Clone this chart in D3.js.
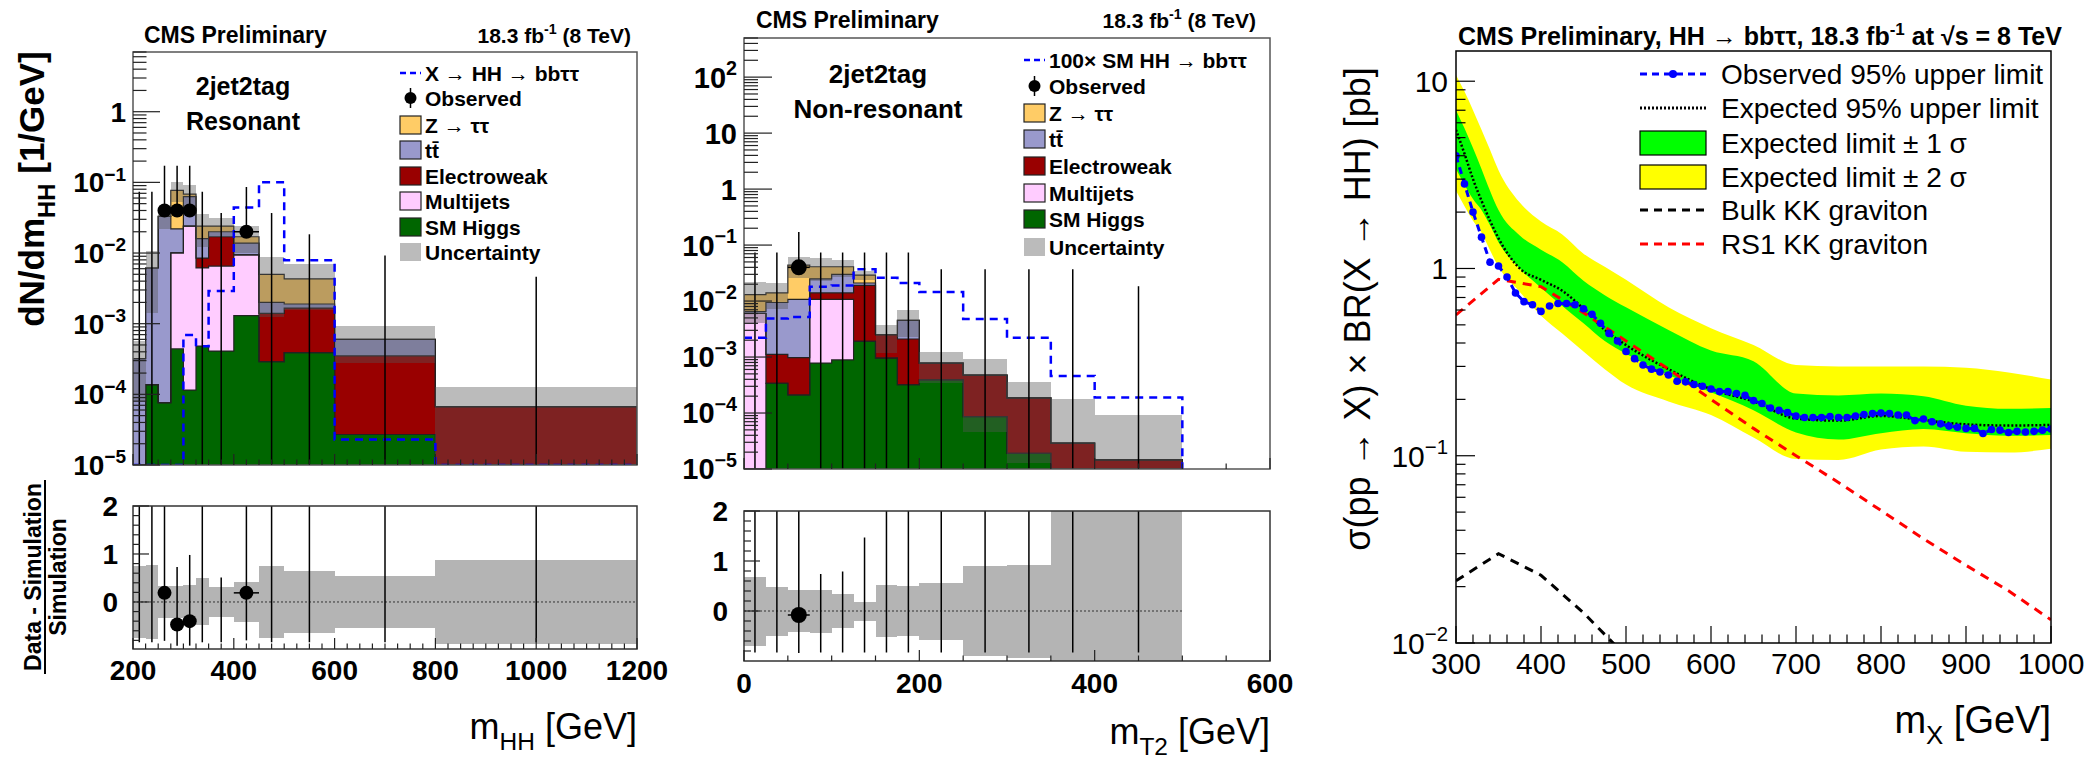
<!DOCTYPE html>
<html>
<head>
<meta charset="utf-8">
<script src="https://cdn.jsdelivr.net/npm/d3@7"></script>
<style>
  body { margin: 0; background: #fff; }
  svg text { font-family: "Liberation Sans", Arial, Helvetica, sans-serif; fill: #000; }
</style>
</head>
<body>
<svg id="chart" width="2089" height="763"></svg>
<script>
// ---- left panel: resonant, m_HH (values per GeV) ----
const resEdges    = [200, 225, 250, 275, 300, 325, 350, 400, 450, 500, 600, 800, 1200];
const resHiggs    = [0, 1.37e-4, 7.6e-5, 4.4e-4, 1.15e-4, 4.8e-4, 4.1e-4, 1.3e-3, 2.9e-4, 3.9e-4, 2.7e-5, 0];
const resMultijet = [0, 0, 0, 9.6e-3, 2.39e-2, 5.7e-3, 6.1e-3, 8.1e-3, 0, 0, 0, 0];
const resEwk      = [0, 0, 0, 0, 0, 2.3e-3, 1.05e-2, 0, 1.11e-3, 1.27e-3, 3.23e-4, 6.7e-5];
const resTtbar    = [3.2e-4, 6.0e-3, 3.29e-2, 1.2e-2, 3.9e-2, 7.5e-3, 3.0e-3, 4.4e-3, 6.0e-4, 2.4e-4, 2.5e-4, 0];
const resZtt      = [0, 0, 0, 5.5e-2, 5.0e-3, 8.0e-3, 4.0e-3, 3.2e-3, 3.0e-3, 2.4e-3, 0, 0];
const resUncLo    = [8e-5, 1.4e-3, 2.2e-2, 5.2e-2, 4.4e-2, 1.2e-2, 1.7e-2, 9.9e-3, 1.25e-3, 1.55e-3, 2.8e-4, 8e-6];
const resUncHi    = [5.6e-4, 1.08e-2, 4.4e-2, 1.0e-1, 9.2e-2, 3.6e-2, 3.1e-2, 2.4e-2, 8.8e-3, 7.0e-3, 9.2e-4, 1.26e-4];
const resSignal   = [1e-7, 1e-7, 1e-7, 1e-7, 6.9e-4, 4.8e-4, 2.9e-3, 4.4e-2, 1.0e-1, 7.9e-3, 2.3e-5, 1e-7];
const resObs      = [0, 0, 1, 1, 1, 0, 0, 1, 0, 0, 0, 0];
const resRatioUnc = [0.75, 0.77, 0.33, 0.33, 0.35, 0.49, 0.31, 0.42, 0.75, 0.64, 0.54, 0.88];
const resRatioVal = [null, null, 0.19, -0.47, -0.40, null, null, 0.19, null, null, null, null];
const resRatioLo  = [-0.84, -0.84, -0.81, -0.91, -0.91, -0.84, -0.84, -0.80, -0.84, -0.84, -0.84, -0.84];
const resRatioHi  = [2.5, 2.5, 2.5, 0.73, 0.98, 2.5, 0.51, 2.5, 2.5, 2.5, 2.5, 2.5];

// ---- middle panel: non-resonant, m_T2 ----
const nrEdges    = [0, 25, 50, 75, 100, 125, 150, 175, 200, 250, 300, 350, 400, 500];
const nrHiggs    = [0, 3.4e-4, 2.1e-4, 7.8e-4, 8.9e-4, 1.9e-3, 9.6e-4, 3.2e-4, 3.9e-4, 8.6e-5, 1.9e-5, 0, 0];
const nrMultijet = [6.0e-3, 0, 0, 9.9e-3, 9.8e-3, 0, 0, 0, 0, 0, 0, 0, 0];
const nrEwk      = [0, 7.8e-4, 7.7e-4, 3.3e-3, 3.3e-3, 1.71e-2, 1.54e-3, 1.78e-3, 3.9e-4, 3.9e-4, 1.68e-4, 2.9e-5, 1.45e-5];
const nrTtbar    = [5e-4, 8.3e-3, 9.7e-3, 1.1e-2, 1.6e-2, 2.0e-3, 0, 2.4e-3, 0, 0, 0, 0, 0];
const nrZtt      = [6.5e-3, 4.6e-3, 3.3e-2, 1.6e-2, 1.1e-2, 8.0e-3, 0, 0, 0, 0, 0, 0, 0];
const nrUncLo    = [4.0e-3, 7.1e-3, 2.55e-2, 2.3e-2, 2.7e-2, 2.35e-2, 1.2e-3, 2.25e-3, 3.4e-4, 4.5e-5, 1.3e-5, 1e-7, 1e-7];
const nrUncHi    = [2.2e-2, 2.1e-2, 6.25e-2, 5.9e-2, 5.5e-2, 3.5e-2, 3.8e-3, 6.8e-3, 1.22e-3, 9.1e-4, 3.6e-4, 1.8e-4, 9.1e-5];
const nrSignal   = [2.2e-3, 4.9e-3, 5.2e-3, 1.8e-2, 1.9e-2, 3.7e-2, 2.6e-2, 2.1e-2, 1.45e-2, 4.8e-3, 2.2e-3, 4.6e-4, 1.9e-4];
const nrObs      = [0, 0, 1, 0, 0, 0, 0, 0, 0, 0, 0, 0, 0];
const nrRatioUnc = [0.69, 0.49, 0.42, 0.43, 0.34, 0.19, 0.52, 0.50, 0.57, 0.90, 0.93, 5.2, 5.3];
const nrRatioVal = [null, null, -0.08, null, null, null, null, null, null, null, null, null, null];
const nrRatioLo  = [-0.83, -0.83, -0.84, -0.83, -0.83, -0.83, -0.83, -0.83, -0.83, -0.83, -0.83, -0.83, -0.83];
const nrRatioHi  = [2.5, 2.5, 2.5, 0.74, 0.79, 1.47, 2.5, 2.5, 2.5, 2.5, 2.5, 2.5, 2.5];

// Poisson (Garwood) interval on counts: [low, high]
const poissonInt = { 0: [0, 1.841], 1: [0.173, 3.300] };

// ---- right panel: limits vs m_X ----
const obsMass = [300,310,320,330,340,350,360,370,380,390,400,410,420,430,440,450,460,470,480,490,
  500,510,520,530,540,550,560,570,580,590,600,610,620,630,640,650,660,670,680,690,
  700,710,720,730,740,750,760,770,780,790,800,810,820,830,840,850,860,870,880,890,
  900,910,920,930,940,950,960,970,980,990,1000];
const obsLimit = [4.0,2.83,2.0,1.47,1.08,1.03,0.90,0.74,0.665,0.64,0.59,0.63,0.65,0.65,0.64,0.61,0.57,0.51,0.45,0.41,
  0.36,0.33,0.305,0.29,0.28,0.27,0.25,0.248,0.24,0.235,0.227,0.22,0.22,0.215,0.21,0.197,0.19,0.18,0.175,0.17,
  0.163,0.16,0.16,0.16,0.162,0.16,0.16,0.163,0.166,0.168,0.169,0.168,0.165,0.165,0.154,0.157,0.152,0.148,0.144,0.142,
  0.140,0.140,0.1315,0.138,0.137,0.133,0.135,0.134,0.135,0.137,0.139];
const expMass  = [300,310,320,330,340,350,375,400,425,450,475,500,550,600,650,700,750,800,850,900,950,1000];
const expLimit = [5.5,4.1,3.0,2.3,1.8,1.45,1.0,0.87,0.76,0.61,0.47,0.39,0.29,0.227,0.195,0.158,0.154,0.163,0.155,0.147,0.145,0.146];
const exp1Hi   = [7.0,5.6,4.4,3.4,2.6,2.05,1.5,1.26,1.08,0.86,0.72,0.62,0.47,0.365,0.32,0.215,0.21,0.215,0.208,0.185,0.178,0.18];
const exp1Lo   = [3.4,2.8,2.35,2.05,1.7,1.38,1.0,0.79,0.63,0.51,0.41,0.35,0.27,0.218,0.175,0.133,0.122,0.132,0.139,0.132,0.128,0.129];
const exp2Hi   = [10.8,8.8,7.0,5.5,4.3,3.35,2.25,1.78,1.52,1.2,1.02,0.87,0.62,0.48,0.39,0.305,0.30,0.30,0.30,0.295,0.278,0.255];
const exp2Lo   = [2.6,2.15,1.8,1.55,1.25,1.02,0.75,0.56,0.45,0.36,0.29,0.24,0.195,0.165,0.125,0.096,0.095,0.108,0.112,0.105,0.104,0.109];
const rsMass   = [300,350,400,450,500,550,600,650,700,750,800,850,900,950,1000];
const rsXsec   = [0.565,0.875,0.80,0.58,0.41,0.29,0.20,0.14,0.10,0.072,0.051,0.036,0.026,0.019,0.0133];
const bulkMass = [300,350,400,450,500];
const bulkXsec = [0.0215,0.030,0.023,0.0145,0.0085];

const procKeys = ["higgs", "multijet", "ewk", "ttbar", "ztt"];
const procColors = { ztt: "#ffcc66", ttbar: "#9999cc", ewk: "#990000", multijet: "#ffccff", higgs: "#006600" };

const svg = d3.select("#chart");
const defs = svg.append("defs");

// text with sub/superscripts; parts: [{t, sub, sup}]
function rich(sel, parts, fs) {
  let shift = 0;
  parts.forEach(p => {
    const target = p.sub ? fs * 0.3 : (p.sup ? -fs * 0.42 : 0);
    const ts = sel.append("tspan").attr("dy", target - shift).text(p.t);
    if (p.sub || p.sup) ts.attr("font-size", fs * 0.68);
    shift = target;
  });
  return sel;
}

function decadeLabel(sel, v, fs) {
  const e = Math.round(Math.log10(v));
  if (e === 0) return sel.text("1");
  if (e === 1) return sel.text("10");
  return rich(sel, [{ t: "10" }, { t: e < 0 ? "\u2212" + (-e) : String(e), sup: true }], fs);
}

function clipRect(id, x0, y0, x1, y1) {
  defs.append("clipPath").attr("id", id).append("rect")
    .attr("x", x0).attr("y", y0).attr("width", x1 - x0).attr("height", y1 - y0);
  return `url(#${id})`;
}

function drawHistPanel(p) {
  const nb = p.edges.length - 1;
  const x = d3.scaleLinear().domain(p.xDomain).range([p.left, p.right]);
  const y = d3.scaleLog().domain(p.yDomain).range([p.bottom, p.top]);
  const yc = v => y(Math.max(v, p.yDomain[0]));
  const bins = d3.range(nb);
  const g = svg.append("g");
  const plot = g.append("g").attr("clip-path", clipRect("clip-" + p.id, p.left, p.top, p.right, p.bottom));

  // stacked backgrounds
  const rows = bins.map(i => ({ x0: p.edges[i], x1: p.edges[i + 1], higgs: p.higgs[i], multijet: p.multijet[i], ewk: p.ewk[i], ttbar: p.ttbar[i], ztt: p.ztt[i] }));
  const layers = d3.stack().keys(procKeys)(rows);
  layers.forEach(layer => {
    plot.append("g").attr("shape-rendering", "crispEdges")
      .selectAll("rect").data(layer).join("rect")
      .attr("x", d => x(d.data.x0)).attr("width", d => x(d.data.x1) - x(d.data.x0))
      .attr("y", d => yc(d[1])).attr("height", d => Math.max(0, yc(d[0]) - yc(d[1])))
      .attr("fill", procColors[layer.key]);
  });
  layers.forEach(layer => {
    const pts = [[x(p.edges[0]), p.bottom]];
    layer.forEach(d => { pts.push([x(d.data.x0), yc(d[1])], [x(d.data.x1), yc(d[1])]); });
    pts.push([x(p.edges[nb]), p.bottom]);
    plot.append("path").attr("d", d3.line()(pts)).attr("fill", "none")
      .attr("stroke", "#222").attr("stroke-width", 1.2);
  });

  // uncertainty band
  plot.append("g").attr("shape-rendering", "crispEdges")
    .selectAll("rect").data(bins).join("rect")
    .attr("x", i => x(p.edges[i])).attr("width", i => x(p.edges[i + 1]) - x(p.edges[i]))
    .attr("y", i => yc(p.uncHi[i])).attr("height", i => yc(p.uncLo[i]) - yc(p.uncHi[i]))
    .attr("fill", "#555").attr("fill-opacity", 0.4);

  // signal
  const sig = [];
  bins.forEach(i => { sig.push([x(p.edges[i]), yc(p.signal[i])], [x(p.edges[i + 1]), yc(p.signal[i])]); });
  sig.push([x(p.edges[nb]), p.bottom]);
  plot.append("path").attr("d", d3.line()(sig)).attr("fill", "none")
    .attr("stroke", "#0000ff").attr("stroke-width", 2.5).attr("stroke-dasharray", "8,6");

  // observed
  bins.forEach(i => {
    const w = p.edges[i + 1] - p.edges[i];
    const n = p.obs[i];
    const [lo, hi] = poissonInt[n];
    const xc = x((p.edges[i] + p.edges[i + 1]) / 2);
    plot.append("line").attr("x1", xc).attr("x2", xc)
      .attr("y1", n > 0 ? yc((n - lo) / w) : p.bottom).attr("y2", yc((n + hi) / w))
      .attr("stroke", "#000").attr("stroke-width", 1.5);
    if (n > 0) {
      plot.append("line").attr("x1", x(p.edges[i])).attr("x2", x(p.edges[i + 1]))
        .attr("y1", yc(n / w)).attr("y2", yc(n / w)).attr("stroke", "#000").attr("stroke-width", 1.5);
      plot.append("circle").attr("cx", xc).attr("cy", yc(n / w)).attr("r", p.markerR).attr("fill", "#000");
    }
  });

  // frame and ticks
  g.append("rect").attr("x", p.left).attr("y", p.top).attr("width", p.right - p.left).attr("height", p.bottom - p.top)
    .attr("fill", "none").attr("stroke", "#555").attr("stroke-width", 1.5);
  y.ticks().forEach(t => {
    const major = Math.abs(Math.log10(t) - Math.round(Math.log10(t))) < 1e-6;
    g.append("line").attr("x1", p.left).attr("x2", p.left + (major ? p.yMaj : p.yMaj / 2))
      .attr("y1", y(t)).attr("y2", y(t)).attr("stroke", "#222").attr("stroke-width", 1.2);
    if (major) {
      decadeLabel(g.append("text").attr("x", p.yLabelX).attr("y", y(t) + p.yFont * 0.36)
        .attr("text-anchor", "end").attr("font-weight", "bold").attr("font-size", p.yFont), t, p.yFont);
    }
  });
  d3.range(p.xDomain[0], p.xDomain[1] + 1e-9, p.xMinor).forEach(t => {
    const major = (t - p.xDomain[0]) % p.xMajor === 0;
    g.append("line").attr("x1", x(t)).attr("x2", x(t)).attr("y1", p.bottom).attr("y2", p.bottom - (major ? 11 : 5.5))
      .attr("stroke", "#222").attr("stroke-width", 1.2);
  });

  // header texts
  g.append("text").attr("x", p.cmsX).attr("y", p.headY).attr("font-weight", "bold").attr("font-size", 23).text("CMS Preliminary");
  rich(g.append("text").attr("x", p.lumiX).attr("y", p.headY).attr("text-anchor", "end")
    .attr("font-weight", "bold").attr("font-size", 21),
    [{ t: "18.3 fb" }, { t: "-1", sup: true }, { t: " (8 TeV)" }], 21);
  p.catText.forEach((s, k) => {
    g.append("text").attr("x", p.catX).attr("y", p.catY[k]).attr("text-anchor", "middle")
      .attr("font-weight", "bold").attr("font-size", p.catFont).text(s);
  });

  // legend
  const lg = g.append("g").attr("font-weight", "bold").attr("font-size", 21);
  const bx = p.legX, bw = 21, tx = p.legX + 25;
  const rowsY = p.legRows;
  lg.append("line").attr("x1", bx).attr("x2", bx + bw).attr("y1", rowsY[0]).attr("y2", rowsY[0])
    .attr("stroke", "#0000ff").attr("stroke-width", 2.5).attr("stroke-dasharray", "6,4");
  lg.append("text").attr("x", tx).attr("y", rowsY[0] + 8).text(p.sigLabel);
  lg.append("line").attr("x1", bx + bw / 2).attr("x2", bx + bw / 2).attr("y1", rowsY[1] - 10).attr("y2", rowsY[1] + 10)
    .attr("stroke", "#000").attr("stroke-width", 1.5);
  lg.append("circle").attr("cx", bx + bw / 2).attr("cy", rowsY[1]).attr("r", 6).attr("fill", "#000");
  lg.append("text").attr("x", tx).attr("y", rowsY[1] + 8).text("Observed");
  const boxes = [["ztt", "Z \u2192 \u03c4\u03c4"], ["ttbar", "tt\u0304"], ["ewk", "Electroweak"], ["multijet", "Multijets"], ["higgs", "SM Higgs"]];
  boxes.forEach(([k, label], j) => {
    const yy = rowsY[j + 2];
    lg.append("rect").attr("x", bx).attr("y", yy - 9).attr("width", bw).attr("height", 18)
      .attr("fill", procColors[k]).attr("stroke", "#222").attr("stroke-width", 1.2);
    lg.append("text").attr("x", tx).attr("y", yy + 8).text(label);
  });
  lg.append("rect").attr("x", bx).attr("y", rowsY[7] - 9).attr("width", bw).attr("height", 18).attr("fill", "#bbbbbb");
  lg.append("text").attr("x", tx).attr("y", rowsY[7] + 8).text("Uncertainty");

  // ---- ratio pad ----
  const yr = d3.scaleLinear().domain(p.rDomain).range([p.rBottom, p.rTop]);
  const rg = svg.append("g");
  const rplot = rg.append("g").attr("clip-path", clipRect("clipr-" + p.id, p.left, p.rTop, p.right, p.rBottom));
  rplot.append("g").attr("shape-rendering", "crispEdges")
    .selectAll("rect").data(bins).join("rect")
    .attr("x", i => x(p.edges[i])).attr("width", i => x(p.edges[i + 1]) - x(p.edges[i]))
    .attr("y", i => yr(p.ratioUnc[i])).attr("height", i => yr(-p.ratioUnc[i]) - yr(p.ratioUnc[i]))
    .attr("fill", "#b4b4b4");
  rplot.append("line").attr("x1", p.left).attr("x2", x(p.edges[nb])).attr("y1", yr(0)).attr("y2", yr(0))
    .attr("stroke", "#333").attr("stroke-width", 1).attr("stroke-dasharray", "2,2");
  bins.forEach(i => {
    const xc = x((p.edges[i] + p.edges[i + 1]) / 2);
    rplot.append("line").attr("x1", xc).attr("x2", xc).attr("y1", yr(p.ratioLo[i])).attr("y2", yr(p.ratioHi[i]))
      .attr("stroke", "#000").attr("stroke-width", 1.5);
    if (p.ratioVal[i] !== null) {
      rplot.append("line").attr("x1", x(p.edges[i])).attr("x2", x(p.edges[i + 1]))
        .attr("y1", yr(p.ratioVal[i])).attr("y2", yr(p.ratioVal[i])).attr("stroke", "#000").attr("stroke-width", 1.5);
      rplot.append("circle").attr("cx", xc).attr("cy", yr(p.ratioVal[i])).attr("r", p.markerR).attr("fill", "#000");
    }
  });
  rg.append("rect").attr("x", p.left).attr("y", p.rTop).attr("width", p.right - p.left).attr("height", p.rBottom - p.rTop)
    .attr("fill", "none").attr("stroke", "#333").attr("stroke-width", 1.5);
  d3.range(-0.8, 2.0001, 0.2).forEach(t => {
    const major = Math.abs(t - Math.round(t)) < 1e-6;
    rg.append("line").attr("x1", p.left).attr("x2", p.left + (major ? 16 : 7)).attr("y1", yr(t)).attr("y2", yr(t))
      .attr("stroke", "#222").attr("stroke-width", 1.2);
    if (major) rg.append("text").attr("x", p.rLabelX).attr("y", yr(t) + 10).attr("text-anchor", "end")
      .attr("font-weight", "bold").attr("font-size", 28).text(Math.round(t));
  });
  d3.range(p.xDomain[0], p.xDomain[1] + 1e-9, p.xMinor).forEach(t => {
    const major = (t - p.xDomain[0]) % p.xMajor === 0;
    rg.append("line").attr("x1", x(t)).attr("x2", x(t)).attr("y1", p.rBottom).attr("y2", p.rBottom - (major ? 11 : 5.5))
      .attr("stroke", "#222").attr("stroke-width", 1.2);
    if (major) rg.append("text").attr("x", x(t)).attr("y", p.xLabelY).attr("text-anchor", "middle")
      .attr("font-weight", "bold").attr("font-size", 28).text(t);
  });
  rich(rg.append("text").attr("x", p.right).attr("y", p.xTitleY).attr("text-anchor", "end").attr("font-size", 36),
    p.xTitle, 36);
}

drawHistPanel({
  id: "res", edges: resEdges, higgs: resHiggs, multijet: resMultijet, ewk: resEwk, ttbar: resTtbar, ztt: resZtt,
  uncLo: resUncLo, uncHi: resUncHi, signal: resSignal, obs: resObs,
  ratioUnc: resRatioUnc, ratioVal: resRatioVal, ratioLo: resRatioLo, ratioHi: resRatioHi,
  left: 133, right: 637, top: 52, bottom: 465, xDomain: [200, 1200], yDomain: [1e-5, 7],
  rTop: 506, rBottom: 649, rDomain: [-0.98, 2],
  yMaj: 27, yFont: 28, yLabelX: 126, rLabelX: 118, xLabelY: 680, xMinor: 25, xMajor: 200,
  markerR: 7, headY: 43, cmsX: 144, lumiX: 631,
  catText: ["2jet2tag", "Resonant"], catX: 243, catY: [95, 130], catFont: 25,
  legX: 400, legRows: [73, 98, 125, 150, 176, 201, 227, 252], sigLabel: "X \u2192 HH \u2192 bb\u03c4\u03c4",
  xTitle: [{ t: "m" }, { t: "HH", sub: true }, { t: " [GeV]" }], xTitleY: 739
});

drawHistPanel({
  id: "nr", edges: nrEdges, higgs: nrHiggs, multijet: nrMultijet, ewk: nrEwk, ttbar: nrTtbar, ztt: nrZtt,
  uncLo: nrUncLo, uncHi: nrUncHi, signal: nrSignal, obs: nrObs,
  ratioUnc: nrRatioUnc, ratioVal: nrRatioVal, ratioLo: nrRatioLo, ratioHi: nrRatioHi,
  left: 744, right: 1270, top: 38, bottom: 469, xDomain: [0, 600], yDomain: [1e-5, 500],
  rTop: 511, rBottom: 661, rDomain: [-1, 2],
  yMaj: 28, yFont: 29, yLabelX: 737, rLabelX: 728, xLabelY: 693, xMinor: 50, xMajor: 200,
  markerR: 8, headY: 28, cmsX: 756, lumiX: 1256,
  catText: ["2jet2tag", "Non-resonant"], catX: 878, catY: [83, 118], catFont: 26,
  legX: 1024, legRows: [60, 86, 113, 139, 166, 193, 219, 247], sigLabel: "100\u00d7 SM HH \u2192 bb\u03c4\u03c4",
  xTitle: [{ t: "m" }, { t: "T2", sub: true }, { t: " [GeV]" }], xTitleY: 744
});

// left y titles
rich(svg.append("text").attr("transform", "translate(44,189) rotate(-90)").attr("text-anchor", "middle")
  .attr("font-weight", "bold").attr("font-size", 35),
  [{ t: "dN/dm" }, { t: "HH", sub: true }, { t: " [1/GeV]" }], 35);
svg.append("text").attr("transform", "translate(41,577) rotate(-90)").attr("text-anchor", "middle")
  .attr("font-weight", "bold").attr("font-size", 23).text("Data - Simulation");
svg.append("line").attr("x1", 45).attr("x2", 45).attr("y1", 480).attr("y2", 674).attr("stroke", "#000").attr("stroke-width", 2);
svg.append("text").attr("transform", "translate(66,577) rotate(-90)").attr("text-anchor", "middle")
  .attr("font-weight", "bold").attr("font-size", 23).text("Simulation");

// ---- right panel ----
(function drawLimits() {
  const L = 1456, R = 2051, T = 51, B = 643;
  const x = d3.scaleLinear().domain([300, 1000]).range([L, R]);
  const y = d3.scaleLog().domain([0.01, 14.5]).range([B, T]);
  const g = svg.append("g");
  const plot = g.append("g").attr("clip-path", clipRect("clip-lim", L, T, R, B));

  const band = (lo, hi) => d3.area().x((d, i) => x(expMass[i])).y0((d, i) => y(lo[i])).y1((d, i) => y(hi[i]))
    .curve(d3.curveMonotoneX)(expMass);
  plot.append("path").attr("d", band(exp2Lo, exp2Hi)).attr("fill", "#ffff00");
  plot.append("path").attr("d", band(exp1Lo, exp1Hi)).attr("fill", "#00ff00");
  plot.append("path").attr("d", d3.line().x((d, i) => x(expMass[i])).y((d, i) => y(expLimit[i])).curve(d3.curveMonotoneX)(expMass))
    .attr("fill", "none").attr("stroke", "#000").attr("stroke-width", 2.5).attr("stroke-dasharray", "2,2");
  plot.append("path").attr("d", d3.line().x((d, i) => x(rsMass[i])).y((d, i) => y(rsXsec[i]))(rsMass))
    .attr("fill", "none").attr("stroke", "#ff0000").attr("stroke-width", 3).attr("stroke-dasharray", "9,7");
  plot.append("path").attr("d", d3.line().x((d, i) => x(bulkMass[i])).y((d, i) => y(bulkXsec[i]))(bulkMass))
    .attr("fill", "none").attr("stroke", "#000").attr("stroke-width", 3).attr("stroke-dasharray", "9,7");
  plot.append("path").attr("d", d3.line().x((d, i) => x(obsMass[i])).y((d, i) => y(obsLimit[i]))(obsMass))
    .attr("fill", "none").attr("stroke", "#0000ff").attr("stroke-width", 3).attr("stroke-dasharray", "7,5");
  plot.append("g").selectAll("circle").data(obsMass).join("circle")
    .attr("cx", (d, i) => x(d)).attr("cy", (d, i) => y(obsLimit[i])).attr("r", 3.8).attr("fill", "#0000ff");

  g.append("rect").attr("x", L).attr("y", T).attr("width", R - L).attr("height", B - T)
    .attr("fill", "none").attr("stroke", "#000").attr("stroke-width", 1.5);
  y.ticks().forEach(t => {
    const major = Math.abs(Math.log10(t) - Math.round(Math.log10(t))) < 1e-6;
    g.append("line").attr("x1", L).attr("x2", L + (major ? 19 : 9.5)).attr("y1", y(t)).attr("y2", y(t))
      .attr("stroke", "#000").attr("stroke-width", 1.2);
    if (major) decadeLabel(g.append("text").attr("x", 1448).attr("y", y(t) + 11).attr("text-anchor", "end")
      .attr("font-size", 30), t, 30);
  });
  d3.range(300, 1000.001, 20).forEach(t => {
    const major = t % 100 === 0;
    g.append("line").attr("x1", x(t)).attr("x2", x(t)).attr("y1", B).attr("y2", B - (major ? 17 : 8.5))
      .attr("stroke", "#000").attr("stroke-width", 1.2);
    if (major) g.append("text").attr("x", x(t)).attr("y", 674).attr("text-anchor", "middle").attr("font-size", 30).text(t);
  });

  rich(g.append("text").attr("x", 1458).attr("y", 45).attr("font-weight", "bold").attr("font-size", 25),
    [{ t: "CMS Preliminary, HH \u2192 bb\u03c4\u03c4, 18.3 fb" }, { t: "-1", sup: true }, { t: " at \u221as = 8 TeV" }], 25);
  rich(g.append("text").attr("x", R).attr("y", 733).attr("text-anchor", "end").attr("font-size", 38),
    [{ t: "m" }, { t: "X", sub: true }, { t: " [GeV]" }], 38);
  g.append("text").attr("transform", "translate(1370,309) rotate(-90)").attr("text-anchor", "middle")
    .attr("font-size", 36).text("\u03c3(pp \u2192 X) \u00d7 BR(X \u2192 HH) [pb]");

  // legend
  const lx0 = 1640, lx1 = 1706, tx = 1721, rowsY = [74, 108, 143, 177, 210, 244];
  const lg = g.append("g").attr("font-size", 28);
  const seg = (yy, color, dash) => lg.append("line").attr("x1", lx0).attr("x2", lx1).attr("y1", yy).attr("y2", yy)
    .attr("stroke", color).attr("stroke-width", 3).attr("stroke-dasharray", dash);
  seg(rowsY[0], "#0000ff", "7,5");
  lg.append("circle").attr("cx", (lx0 + lx1) / 2).attr("cy", rowsY[0]).attr("r", 4).attr("fill", "#0000ff");
  seg(rowsY[1], "#000", "2,2");
  lg.append("rect").attr("x", lx0).attr("y", rowsY[2] - 12).attr("width", lx1 - lx0).attr("height", 24)
    .attr("fill", "#00ff00").attr("stroke", "#000").attr("stroke-width", 1.2);
  lg.append("rect").attr("x", lx0).attr("y", rowsY[3] - 12).attr("width", lx1 - lx0).attr("height", 24)
    .attr("fill", "#ffff00").attr("stroke", "#000").attr("stroke-width", 1.2);
  seg(rowsY[4], "#000", "8,6");
  seg(rowsY[5], "#ff0000", "8,6");
  ["Observed 95% upper limit", "Expected 95% upper limit", "Expected limit \u00b1 1 \u03c3", "Expected limit \u00b1 2 \u03c3",
   "Bulk KK graviton", "RS1 KK graviton"].forEach((s, k) => {
    lg.append("text").attr("x", tx).attr("y", rowsY[k] + 10).text(s);
  });
})();
</script>
</body>
</html>
